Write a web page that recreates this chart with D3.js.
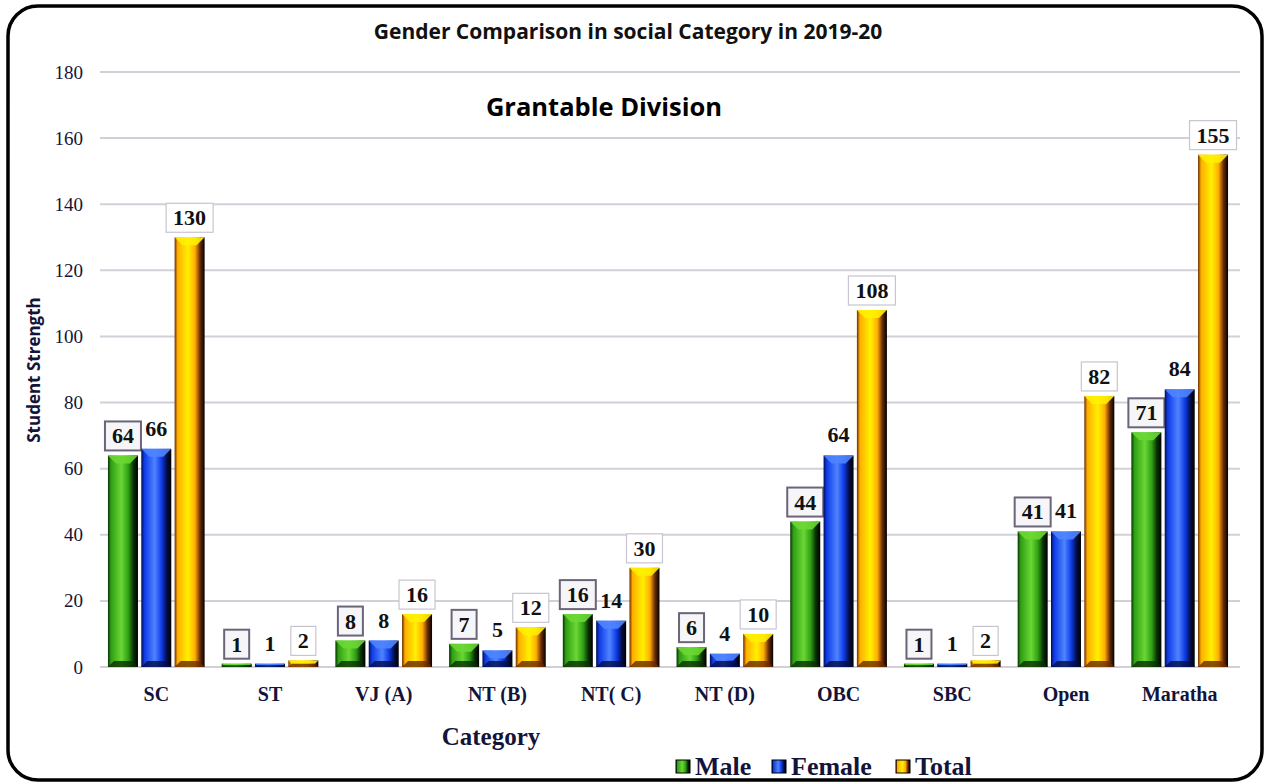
<!DOCTYPE html>
<html>
<head>
<meta charset="utf-8">
<script src="https://cdn.jsdelivr.net/npm/d3@7"></script>
<style>
  body { margin: 0; background: #fff; }
  svg { display: block; }
</style>
</head>
<body>
<div class="container"></div>
<script>
// chart data
const categories = ["SC", "ST", "VJ (A)", "NT (B)", "NT( C)", "NT (D)", "OBC", "SBC", "Open", "Maratha"];
const male = [64, 1, 8, 7, 16, 6, 44, 1, 41, 71];
const female = [66, 1, 8, 5, 14, 4, 64, 1, 41, 84];
const total = [130, 2, 16, 12, 30, 10, 108, 2, 82, 155];
const seriesNames = ["Male", "Female", "Total"];
const yTicks = [0, 20, 40, 60, 80, 100, 120, 140, 160, 180];

const width = 1270, height = 784;
const margin = {top: 72, right: 32, bottom: 117, left: 100};
const serif = "'Liberation Serif', 'Times New Roman', serif";
const sans = "'Open Sans', 'Noto Sans', sans-serif";
const textColor = "#14143a";

// base colours for each series: [dark, mid, light]
const palette = {
    Male: ["#0a3004", "#2f9f14", "#6ad734"],
    Female: ["#020e48", "#0d3ae6", "#4f84ff"],
    Total: ["#6a2a00", "#ffae00", "#fff000"]
};

const svg = d3.select(".container").append("svg")
    .attr("width", width).attr("height", height);

const defs = svg.append("defs");
seriesNames.forEach(name => {
    let c = palette[name];
    let g = defs.append("linearGradient").attr("id", "grad-" + name)
        .attr("x1", "0%").attr("x2", "100%").attr("y1", "0%").attr("y2", "0%");
    [[0, c[0]], [0.1, c[1]], [0.45, c[2]], [0.68, c[1]], [0.85, c[0]], [1, "#000"]]
        .forEach(s => g.append("stop").attr("offset", s[0]).attr("stop-color", s[1]));
});

// outer rounded frame
svg.append("rect").attr("x", 8).attr("y", 6).attr("width", 1254).attr("height", 774)
    .attr("rx", 30).attr("fill", "#fff").attr("stroke", "#000").attr("stroke-width", 3.5);

const x = d3.scaleBand().domain(categories)
    .range([margin.left, width - margin.right - 2]).paddingInner(0.15).paddingOuter(0.07);
const xs = d3.scaleBand().domain(seriesNames).range([0, x.bandwidth()]).paddingInner(0.1);
const y = d3.scaleLinear().domain([0, 180]).range([height - margin.bottom, margin.top]);

// gridlines
svg.append("g").selectAll("line").data(yTicks).enter().append("line")
    .attr("x1", margin.left).attr("x2", 1240)
    .attr("y1", d => y(d)).attr("y2", d => y(d))
    .attr("stroke", "#d3cfd9").attr("stroke-width", 2);

// y axis
const yAxis = svg.append("g").attr("transform", `translate(${margin.left},0)`)
    .call(d3.axisLeft(y).tickValues(yTicks).tickSize(0).tickPadding(17));
yAxis.select(".domain").remove();
yAxis.selectAll("text").attr("font-family", serif).attr("font-size", 19)
    .attr("fill", textColor);

// x axis labels
const xAxis = svg.append("g").attr("transform", `translate(0,${y(0)})`)
    .call(d3.axisBottom(x).tickSize(0));
xAxis.select(".domain").remove();
xAxis.selectAll("text").attr("y", 34).attr("dy", 0)
    .attr("font-family", serif).attr("font-weight", "bold")
    .attr("font-size", 20).attr("fill", textColor);

// rows for drawing
let rows = categories.map((c, i) => ({cat: c, vals: {Male: male[i], Female: female[i], Total: total[i]}}));

const groups = svg.append("g").selectAll("g").data(rows).enter().append("g")
    .attr("transform", d => `translate(${x(d.cat)},0)`);

seriesNames.forEach(name => {
    let bw = xs.bandwidth();
    let c = palette[name];
    let bars = groups.append("g");
    bars.append("rect")
        .attr("x", xs(name)).attr("width", bw)
        .attr("y", d => y(d.vals[name])).attr("height", d => y(0) - y(d.vals[name]))
        .attr("fill", `url(#grad-${name})`);
    // top bevel
    bars.append("path")
        .attr("d", d => {
            let h = Math.min(8, (y(0) - y(d.vals[name])) / 2);
            let x0 = xs(name), y0 = y(d.vals[name]);
            return `M${x0},${y0}L${x0 + bw},${y0}L${x0 + bw - h},${y0 + h}L${x0 + h},${y0 + h}Z`;
        })
        .attr("fill", c[2]).attr("opacity", 0.9);
    // bottom bevel
    bars.append("path")
        .attr("d", d => {
            let h = Math.min(6, (y(0) - y(d.vals[name])) / 2);
            let x0 = xs(name), y0 = y(0);
            return `M${x0},${y0}L${x0 + bw},${y0}L${x0 + bw - h},${y0 - h}L${x0 + h},${y0 - h}Z`;
        })
        .attr("fill", c[0]).attr("opacity", 0.8);

    // value labels
    let lbl = groups.append("g")
        .attr("transform", d => `translate(${xs(name) + bw / 2},${y(d.vals[name]) - 5})`);
    if (name !== "Female") {
        lbl.append("rect")
            .attr("x", d => -(String(d.vals[name]).length * 5.5 + 7))
            .attr("width", d => String(d.vals[name]).length * 11 + 14)
            .attr("y", -29).attr("height", 29)
            .attr("fill", name === "Male" ? "#f6f6f8" : "#fff")
            .attr("stroke", name === "Male" ? "#6c6478" : "#c9c5d0")
            .attr("stroke-width", name === "Male" ? 2 : 1.2);
    }
    lbl.append("text").attr("text-anchor", "middle").attr("y", name === "Female" ? -8 : -7)
        .attr("font-family", serif).attr("font-weight", "bold").attr("font-size", 22)
        .attr("fill", "#111").text(d => d.vals[name]);
});

// titles
svg.append("text").attr("x", 628).attr("y", 39).attr("text-anchor", "middle")
    .attr("font-family", sans).attr("font-weight", "bold").attr("font-size", 21)
    .attr("fill", "#111").text("Gender Comparison in social Category in 2019-20");
svg.append("text").attr("x", 604).attr("y", 116).attr("text-anchor", "middle")
    .attr("font-family", sans).attr("font-weight", "bold").attr("font-size", 25.5)
    .attr("fill", "#000").text("Grantable Division");
svg.append("text").attr("transform", "translate(40,370) rotate(-90)").attr("text-anchor", "middle")
    .attr("font-family", sans).attr("font-weight", "bold").attr("font-size", 17)
    .attr("fill", textColor).text("Student Strength");
svg.append("text").attr("x", 491).attr("y", 745).attr("text-anchor", "middle")
    .attr("font-family", serif).attr("font-weight", "bold").attr("font-size", 25)
    .attr("fill", textColor).text("Category");

// legend
const legendX = [676, 772, 896];
const legend = svg.append("g").selectAll("g").data(seriesNames).enter().append("g")
    .attr("transform", (d, i) => `translate(${legendX[i]},767)`);
legend.append("rect").attr("x", 0).attr("y", -7).attr("width", 14).attr("height", 13)
    .attr("fill", d => `url(#grad-${d})`).attr("stroke", "#000").attr("stroke-width", 1);
legend.append("text").attr("x", 19).attr("y", 8)
    .attr("font-family", serif).attr("font-weight", "bold").attr("font-size", 26)
    .attr("fill", textColor).text(d => d);
</script>
</body>
</html>
